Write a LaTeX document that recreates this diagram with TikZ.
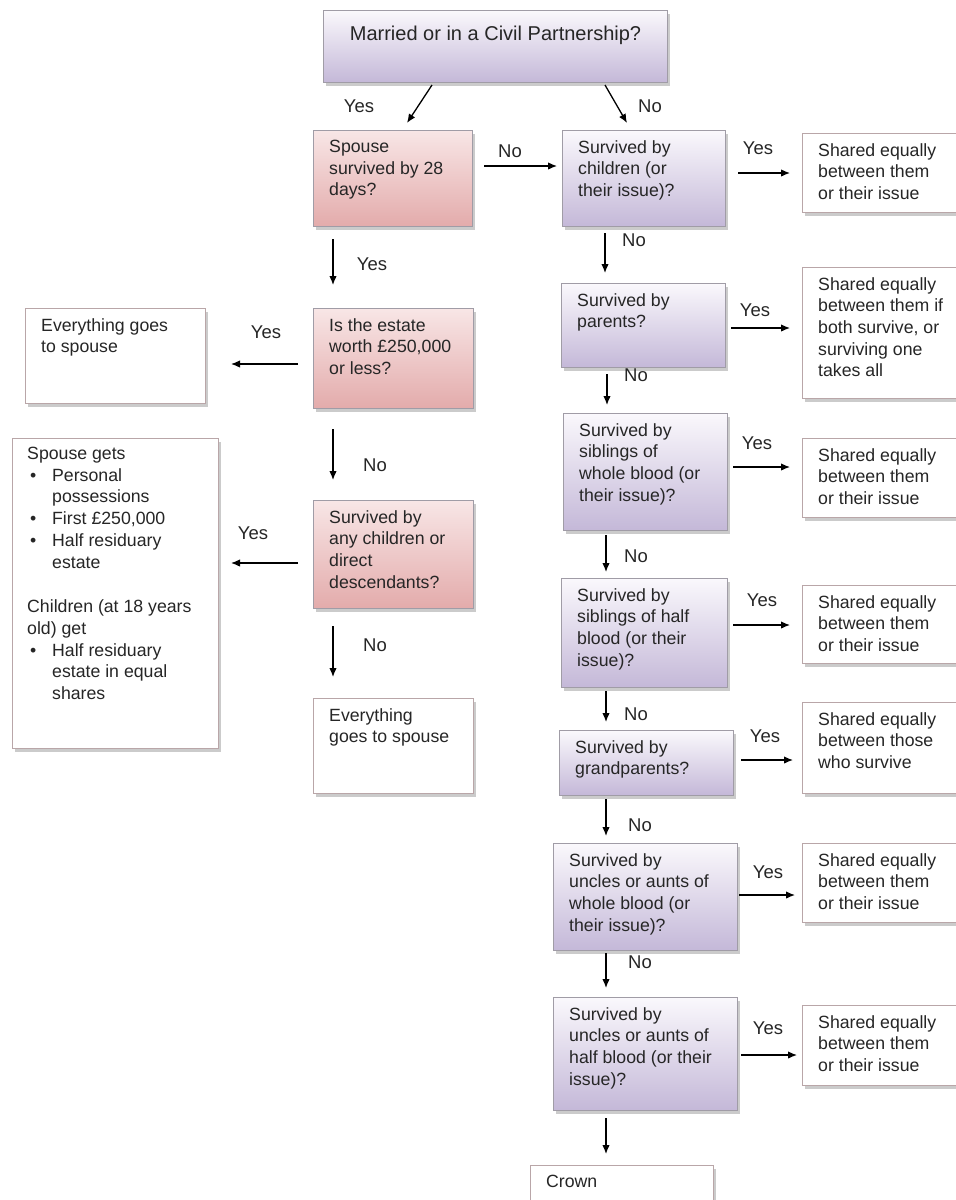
\documentclass[tikz,border=0pt]{standalone}
\usepackage{fontspec}
\setmainfont{Liberation Sans}
\usetikzlibrary{shadows,calc,arrows.meta}
\definecolor{purtop}{HTML}{FAF8FC}
\definecolor{purbot}{HTML}{C4B8D8}
\definecolor{redtop}{HTML}{F8E6E6}
\definecolor{redbot}{HTML}{E3ABAB}
\definecolor{boxline}{HTML}{A09CA6}
\definecolor{wline}{HTML}{B9A6A8}
\tikzset{
  box/.style={draw=boxline, line width=1pt, anchor=north west, inner sep=0pt,
    drop shadow={shadow xshift=2pt, shadow yshift=-3pt, fill=black!40, opacity=0.5}},
  pbox/.style={box, top color=purtop, bottom color=purbot},
  rbox/.style={box, top color=redtop, bottom color=redbot},
  wbox/.style={box, fill=white, draw=wline},
  txt/.style={anchor=north west, inner sep=0pt, align=left, text=black!85,
    font=\fontsize{17.7}{21.7}\selectfont},
  lbl/.style={inner sep=0pt, text=black!85, font=\fontsize{18.5}{22}\selectfont},
  arr/.style={-{Latex[length=9pt,width=7.5pt]}, line width=1.3pt}
}
\newcommand\flowbox[7]{%
  \node[#1, minimum width={#5-#3}, minimum height={#6-#4}] (#2) at (#3,#4) {};
  \node[txt] (#2-t) at ($(#2.north west)+(16,10)$) {#7};
}
\begin{document}
\begin{tikzpicture}[x=1pt,y=-1pt]
\useasboundingbox (0,0) rectangle (956,1200);
\fill[white] (0,0) rectangle (956,1200);
\clip (0,0) rectangle (956,1200);

% top
\node[pbox, minimum width=344, minimum height=72] (top) at (323,10) {};
\node[anchor=north, inner sep=0pt, text=black!85, font=\fontsize{20}{24}\selectfont]
  (top-t) at ($(top.north)+(0,16)$) {Married or in a Civil Partnership?};

% left column (spouse branch)
\flowbox{rbox}{spouse}{313}{130}{472}{226}{Spouse\\survived by 28\\days?}
\flowbox{rbox}{estate}{313}{308}{473}{408}{Is the estate\\worth £250,000\\or less?}
\flowbox{rbox}{anych}{313}{500}{473}{608}{Survived by\\any children or\\direct\\descendants?}
\flowbox{wbox}{evsptwo}{313}{698}{473}{793}{Everything\\goes to spouse}
\flowbox{wbox}{evspone}{25}{308}{205}{403}{Everything goes\\to spouse}
\node[wbox, minimum width=206, minimum height=310] (spgets) at (12,438) {};
\node[txt] (spgets-t) at ($(spgets.north west)+(15,9)$) {Spouse gets\\
\makebox[25pt][l]{\hspace{3pt}•}Personal\\
\makebox[25pt][l]{}possessions\\
\makebox[25pt][l]{\hspace{3pt}•}First £250,000\\
\makebox[25pt][l]{\hspace{3pt}•}Half residuary\\
\makebox[25pt][l]{}estate\\[23pt]
Children (at 18 years\\
old) get\\
\makebox[25pt][l]{\hspace{3pt}•}Half residuary\\
\makebox[25pt][l]{}estate in equal\\
\makebox[25pt][l]{}shares};

% right column
\flowbox{pbox}{children}{562}{130}{725}{226}{Survived by\\children (or\\their issue)?}
\flowbox{pbox}{parents}{561}{283}{725}{367}{Survived by\\parents?}
\flowbox{pbox}{sibwhole}{563}{413}{727}{530}{Survived by\\siblings of\\whole blood (or\\their issue)?}
\flowbox{pbox}{sibhalf}{561}{578}{727}{687}{Survived by\\siblings of half\\blood (or their\\issue)?}
\flowbox{pbox}{grand}{559}{730}{733}{795}{Survived by\\grandparents?}
\flowbox{pbox}{unclewhole}{553}{843}{737}{950}{Survived by\\uncles or aunts of\\whole blood (or\\their issue)?}
\flowbox{pbox}{unclehalf}{553}{997}{737}{1110}{Survived by\\uncles or aunts of\\half blood (or their\\issue)?}
\flowbox{wbox}{crown}{530}{1165}{713}{1240}{Crown}

% outcome boxes
\flowbox{wbox}{sone}{802}{133}{968}{212}{Shared equally\\between them\\or their issue}
\flowbox{wbox}{stwo}{802}{267}{968}{398}{Shared equally\\between them if\\both survive, or\\surviving one\\takes all}
\flowbox{wbox}{sthree}{802}{438}{968}{517}{Shared equally\\between them\\or their issue}
\flowbox{wbox}{sfour}{802}{585}{968}{663}{Shared equally\\between them\\or their issue}
\flowbox{wbox}{sfive}{802}{702}{968}{793}{Shared equally\\between those\\who survive}
\flowbox{wbox}{ssix}{802}{843}{968}{922}{Shared equally\\between them\\or their issue}
\flowbox{wbox}{sseven}{802}{1005}{968}{1085}{Shared equally\\between them\\or their issue}

% arrows
\draw[arr] ($(top.south west)+(432-323,84-82)$) -- ($(spouse.north west)+(407-313,123-130)$);
\draw[arr] ($(top.south west)+(605-323,84-82)$) -- ($(children.north west)+(627-562,123-130)$);
\draw[arr] ($(spouse.north east)+(483-472,166-130)$) -- ($(children.north west)+(557-562,166-130)$);
\draw[arr] ($(spouse.south west)+(333-313,238-226)$) -- ($(estate.north west)+(333-313,285-308)$);
\draw[arr] ($(estate.north west)+(298-313,364-308)$) -- ($(evspone.north east)+(230-205,364-308)$);
\draw[arr] ($(estate.south west)+(333-313,428-408)$) -- ($(anych.north west)+(333-313,480-500)$);
\draw[arr] ($(anych.north west)+(298-313,563-500)$) -- ($(spgets.north east)+(230-218,563-438)$);
\draw[arr] ($(anych.south west)+(333-313,625-608)$) -- ($(evsptwo.north west)+(333-313,677-698)$);

\draw[arr] ($(children.north east)+(737-725,173-130)$) -- ($(sone.north west)+(790-802,173-133)$);
\draw[arr] ($(children.south west)+(605-562,232-226)$) -- ($(parents.north west)+(605-561,273-283)$);
\draw[arr] ($(parents.north east)+(730-725,328-283)$) -- ($(stwo.north west)+(790-802,328-267)$);
\draw[arr] ($(parents.south west)+(607-561,373-367)$) -- ($(sibwhole.north west)+(607-563,405-413)$);
\draw[arr] ($(sibwhole.north east)+(732-727,467-413)$) -- ($(sthree.north west)+(790-802,467-438)$);
\draw[arr] ($(sibwhole.south west)+(606-563,534-530)$) -- ($(sibhalf.north west)+(606-561,572-578)$);
\draw[arr] ($(sibhalf.north east)+(732-727,625-578)$) -- ($(sfour.north west)+(790-802,625-585)$);
\draw[arr] ($(sibhalf.south west)+(606-561,690-687)$) -- ($(grand.north west)+(606-559,722-730)$);
\draw[arr] ($(grand.north east)+(740-733,760-730)$) -- ($(sfive.north west)+(793-802,760-702)$);
\draw[arr] ($(grand.south west)+(606-559,798-795)$) -- ($(unclewhole.north west)+(606-553,836-843)$);
\draw[arr] ($(unclewhole.north east)+(738-737,895-843)$) -- ($(ssix.north west)+(795-802,895-843)$);
\draw[arr] ($(unclewhole.south west)+(606-553,952-950)$) -- ($(unclehalf.north west)+(606-553,988-997)$);
\draw[arr] ($(unclehalf.north east)+(740-737,1055-997)$) -- ($(sseven.north west)+(797-802,1055-1005)$);
\draw[arr] ($(unclehalf.south west)+(606-553,1117-1110)$) -- ($(crown.north west)+(606-530,1154-1165)$);

% labels
\node[lbl] (l1) at (359,106) {Yes};
\node[lbl] (l2) at (650,106) {No};
\node[lbl] (l3) at (510,151) {No};
\node[lbl] (l4) at (372,264) {Yes};
\node[lbl] (l5) at (266,332) {Yes};
\node[lbl] (l6) at (375,465) {No};
\node[lbl] (l7) at (253,533) {Yes};
\node[lbl] (l8) at (375,645) {No};
\node[lbl] (l9) at (758,148) {Yes};
\node[lbl] (l10) at (634,240) {No};
\node[lbl] (l11) at (755,310) {Yes};
\node[lbl] (l12) at (636,375) {No};
\node[lbl] (l13) at (757,443) {Yes};
\node[lbl] (l14) at (636,556) {No};
\node[lbl] (l15) at (762,600) {Yes};
\node[lbl] (l16) at (636,714) {No};
\node[lbl] (l17) at (765,736) {Yes};
\node[lbl] (l18) at (640,825) {No};
\node[lbl] (l19) at (768,872) {Yes};
\node[lbl] (l20) at (640,962) {No};
\node[lbl] (l21) at (768,1028) {Yes};
\end{tikzpicture}
\end{document}
